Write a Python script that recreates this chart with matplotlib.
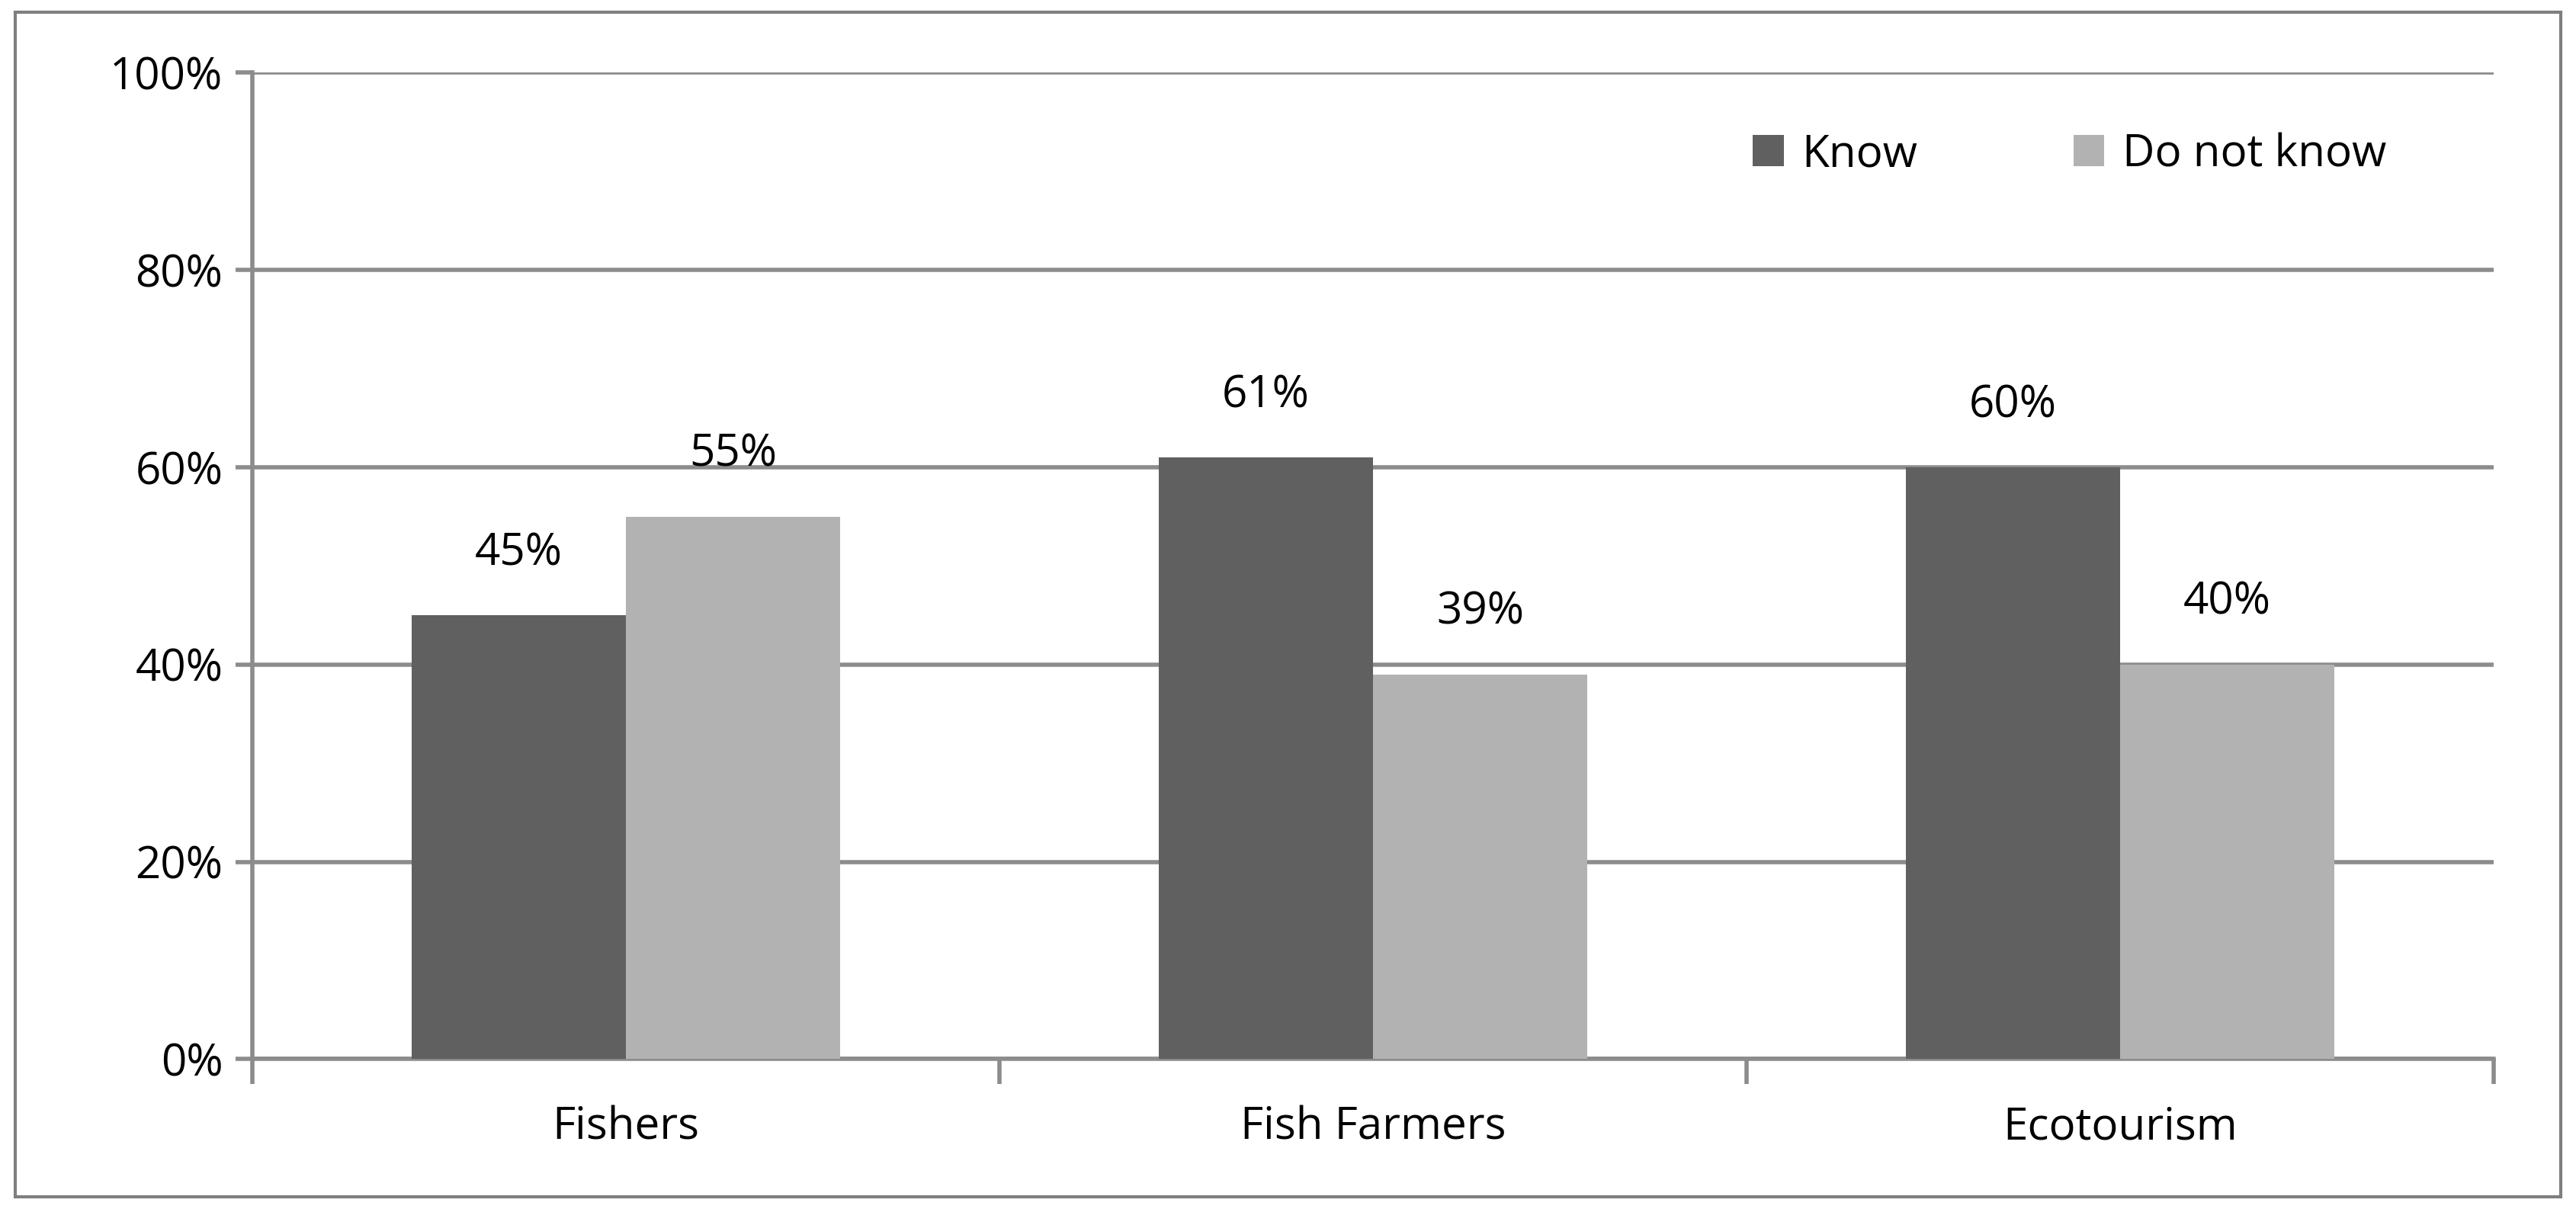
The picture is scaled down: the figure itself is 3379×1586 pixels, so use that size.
import matplotlib
matplotlib.use("Agg")
import matplotlib.pyplot as plt
import numpy as np
from matplotlib.patches import Rectangle

categories = ["Fishers", "Fish Farmers", "Ecotourism"]
know = [45, 61, 60]
dont_know = [55, 39, 40]
series_names = ["Know", "Do not know"]
yticks = [0, 20, 40, 60, 80, 100]

plt.rcParams['font.family'] = ['Open Sans', 'DejaVu Sans']
fig = plt.figure(figsize=(16.895, 7.93), dpi=200)
fig.patches.append(Rectangle((0.006, 0.01), 0.988, 0.98, transform=fig.transFigure,
                             fill=False, edgecolor='#7f7f7f', lw=1.5))
ax = fig.add_axes([0.098, 0.124, 0.870, 0.816])
x = np.arange(len(categories))
w = 0.287
b1 = ax.bar(x - w/2, know, w, color='#606060', label=series_names[0], zorder=3)
b2 = ax.bar(x + w/2, dont_know, w, color='#b2b2b2', label=series_names[1], zorder=3)
for bars in (b1, b2):
    for r in bars:
        ax.text(r.get_x() + r.get_width()/2, r.get_height() + 4, f"{r.get_height():.0f}%",
                ha='center', va='bottom', fontsize=21)
ax.set_xlim(-0.5, 2.5)
ax.set_ylim(0, 100)
ax.set_yticks(yticks)
ax.set_yticklabels([f"{v}%" for v in yticks], fontsize=21)
ax.yaxis.grid(True, color='#8c8c8c', lw=2, zorder=0)
ax.set_xticks(x)
ax.set_xticklabels(categories, fontsize=21)
ax.set_xticks([-0.5, 0.5, 1.5, 2.5], minor=True)
ax.tick_params(axis='x', which='major', length=0, pad=22)
ax.tick_params(axis='x', which='minor', length=12, width=2, color='#8c8c8c', direction='out')
ax.tick_params(axis='y', length=8, width=2, color='#8c8c8c', pad=6)
for s in ['top', 'right']:
    ax.spines[s].set_visible(False)
for s in ['left', 'bottom']:
    ax.spines[s].set_color('#8c8c8c')
    ax.spines[s].set_linewidth(2)
ax.legend(loc='upper right', bbox_to_anchor=(0.97, 0.98), ncol=2, frameon=False, fontsize=21,
          handlelength=0.7, handleheight=0.7, columnspacing=3.5, handletextpad=0.4)
fig.savefig("out.png", dpi=200)
